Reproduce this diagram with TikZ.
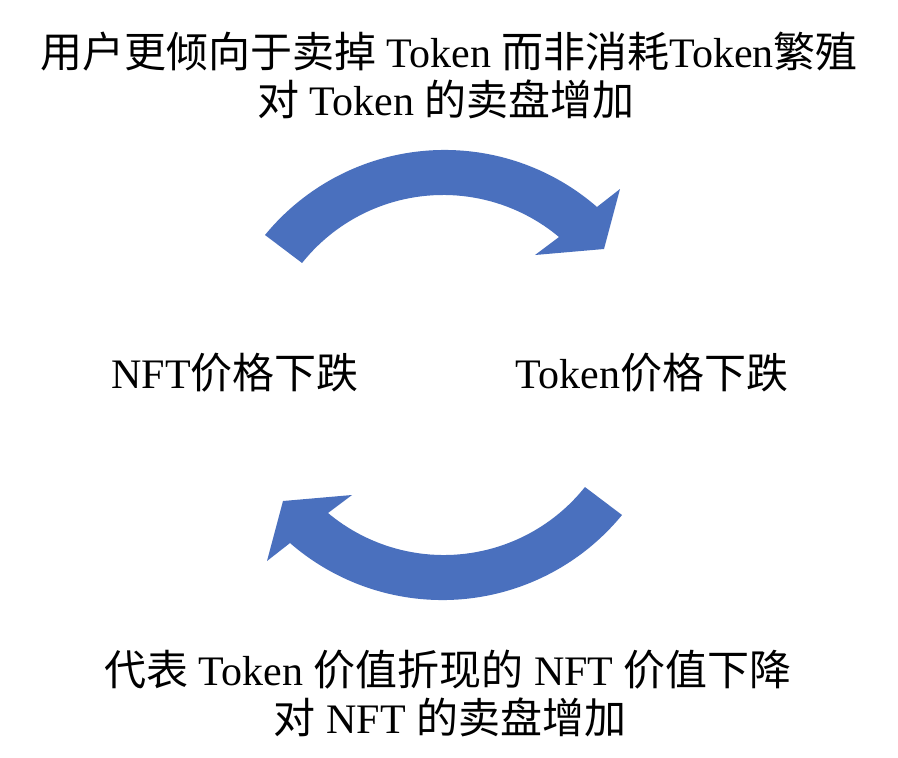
\documentclass[tikz,border=0pt]{standalone}
\usepackage{fontspec}
\setmainfont{Liberation Serif}
\newfontfamily\cjk{Noto Sans CJK SC}
\newcommand{\zh}[1]{{\cjk #1}}
\definecolor{arrowblue}{HTML}{4A70BE}
\tikzset{
  txt/.style={font=\fontsize{42}{48}\selectfont, inner sep=0pt, anchor=base},
  bluearrow/.style={fill=arrowblue}
}
\begin{document}
\begin{tikzpicture}[x=1pt,y=-1pt]
\useasboundingbox[fill=white] (0,0) rectangle (898,758);

\node[txt] (top1) at (449,67) {\zh{用户更倾向于卖掉} Token \zh{而非消耗}Token\zh{繁殖}};
\node[txt] (top2) at (446,115) {\zh{对} Token \zh{的卖盘增加}};

% upper curved arrow
\fill[bluearrow] (265,235) coordinate (uptail)
  arc[start angle=-140.67, end angle=-48.98, radius=232.2] coordinate (upshaftout)
  -- (620,189) coordinate (upbarbout)
  -- (604,249) coordinate (uptip)
  -- (535,255) coordinate (upbarbin)
  -- (559,237) coordinate (upshaftin)
  arc[start angle=-50.1, end angle=-141.45, radius=180.5]
  -- cycle;

\node[txt] (left) at (235,388) {NFT\zh{价格下跌}};
\node[txt] (right) at (652,388) {Token\zh{价格下跌}};

% lower curved arrow
\fill[bluearrow] (622,515) coordinate (lowtail)
  arc[start angle=39.33, end angle=131.02, radius=232.2] coordinate (lowshaftout)
  -- (267,561) coordinate (lowbarbout)
  -- (283,501) coordinate (lowtip)
  -- (352,495) coordinate (lowbarbin)
  -- (328,513) coordinate (lowshaftin)
  arc[start angle=129.9, end angle=38.55, radius=180.5]
  -- cycle;

\node[txt] (bot1) at (448,685) {\zh{代表} Token \zh{价值折现的} NFT \zh{价值下降}};
\node[txt] (bot2) at (450,733) {\zh{对} NFT \zh{的卖盘增加}};
\end{tikzpicture}
\end{document}
